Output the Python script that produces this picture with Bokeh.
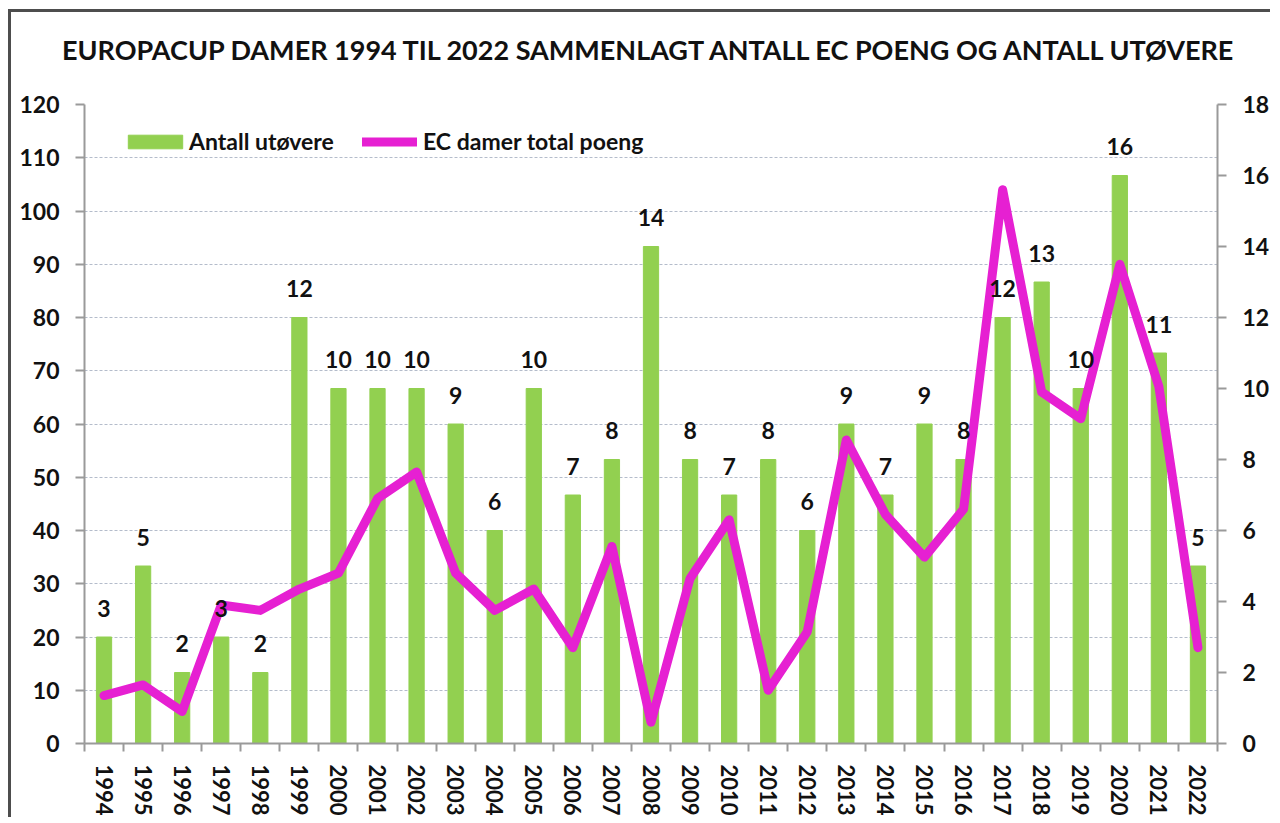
from bokeh.plotting import figure
from bokeh.models import Range1d, LinearAxis, FixedTicker, Legend, LegendItem, ColumnDataSource, Title
from bokeh.core.properties import value
from bokeh.embed import file_html
from bokeh.resources import INLINE

years = [1994, 1995, 1996, 1997, 1998, 1999, 2000, 2001, 2002, 2003, 2004, 2005, 2006, 2007,
         2008, 2009, 2010, 2011, 2012, 2013, 2014, 2015, 2016, 2017, 2018, 2019, 2020, 2021, 2022]
utovere = [3, 5, 2, 3, 2, 12, 10, 10, 10, 9, 6, 10, 7, 8, 14, 8, 7, 8, 6, 9, 7, 9, 8, 12, 13, 10, 16, 11, 5]
poeng = [9, 11, 6, 26, 25, 29, 32, 46, 51, 32, 25, 29, 18, 37, 4, 31, 42, 10, 21, 57, 43, 35, 44, 104, 66, 61, 90, 67, 18]
left_ticks = [0, 10, 20, 30, 40, 50, 60, 70, 80, 90, 100, 110, 120]
right_ticks = [0, 2, 4, 6, 8, 10, 12, 14, 16, 18]
title_text = "EUROPACUP DAMER 1994 TIL 2022 SAMMENLAGT ANTALL EC POENG OG ANTALL UTØVERE"

FONT = "Lato"
GREEN = "#92D050"
MAGENTA = "#E620D2"
AXIS = "#9a9a9a"
TXT = "#111111"

src = ColumnDataSource(dict(year=years, n=utovere, pts=poeng, lab=[str(v) for v in utovere]))

p = figure(width=1262, height=808, title=None,
           x_range=Range1d(years[0] - 0.5, years[-1] + 0.5),
           y_range=Range1d(left_ticks[0], left_ticks[-1]),
           output_backend="svg", toolbar_location=None,
           min_border_left=73, min_border_right=56, min_border_top=92, min_border_bottom=77)
p.extra_y_ranges = {"right": Range1d(right_ticks[0], right_ticks[-1])}
p.outline_line_color = None
p.styles = {"margin-left": "8px", "margin-top": "9px",
            "border-top": "3px solid #4d4d4d", "border-left": "3px solid #4d4d4d"}

# spacer panel between frame and title, then the title itself
p.add_layout(Title(text=" ", text_font_size="2px", standoff=30), "above")
p.add_layout(Title(text=title_text, align="center", offset=-13, standoff=10,
                   text_font=FONT, text_font_style="bold", text_font_size="27px",
                   text_color=TXT), "above")

# x axis (labels at category centres, ticks at category boundaries)
xa = p.xaxis[0]
xa.ticker = FixedTicker(ticks=years, minor_ticks=[y - 0.5 for y in years] + [years[-1] + 0.5])
xa.major_label_overrides = {y: str(y) for y in years}
xa.major_label_orientation = "vertical"
xa.major_tick_out = 0
xa.major_tick_in = 0
xa.minor_tick_out = 8
xa.minor_tick_in = 0
xa.minor_tick_line_color = AXIS
xa.minor_tick_line_width = 2
xa.axis_line_color = AXIS
xa.axis_line_width = 2
xa.major_label_standoff = 13
xa.major_label_text_font = FONT
xa.major_label_text_font_style = "bold"
xa.major_label_text_font_size = "22px"
xa.major_label_text_color = TXT

ya = p.yaxis[0]
ya.ticker = FixedTicker(ticks=left_ticks)
ra = LinearAxis(y_range_name="right", ticker=FixedTicker(ticks=right_ticks))
p.add_layout(ra, "right")

for ax in [ya, ra]:
    ax.major_tick_out = 9
    ax.major_tick_in = 0
    ax.minor_tick_line_color = None
    ax.major_tick_line_color = AXIS
    ax.major_tick_line_width = 2
    ax.axis_line_color = AXIS
    ax.axis_line_width = 2
    ax.major_label_standoff = 16
    ax.major_label_text_font = FONT
    ax.major_label_text_font_style = "bold"
    ax.major_label_text_font_size = "23px"
    ax.major_label_text_color = TXT

p.xgrid.visible = False
p.ygrid.grid_line_color = "#b4bccb"
p.ygrid.grid_line_dash = "3 2"
p.ygrid.grid_line_width = 1

bars = p.vbar(x="year", top="n", width=0.39, source=src, y_range_name="right",
              fill_color=GREEN, line_color=GREEN)
line = p.line(x="year", y="pts", source=src, line_color=MAGENTA, line_width=9,
              line_join="round", line_cap="round")
p.text(x="year", y="n", text="lab", source=src, y_range_name="right",
       text_font=value(FONT), text_font_style="bold", text_font_size="23px",
       text_align="center", text_baseline="alphabetic", y_offset=-29, text_color=TXT)

leg1 = Legend(items=[LegendItem(label=value("Antall utøvere"), renderers=[bars])],
              location=(37, 588), orientation="horizontal", glyph_width=68, glyph_height=17,
              label_standoff=0, padding=0, margin=0, border_line_color=None,
              background_fill_alpha=0, label_text_font=FONT, label_text_font_style="bold",
              label_text_font_size="23px", label_text_color=TXT)
leg2 = Legend(items=[LegendItem(label=value("EC damer total poeng"), renderers=[line])],
              location=(278, 588), orientation="horizontal", glyph_width=55, glyph_height=17,
              label_standoff=6, padding=0, margin=0, border_line_color=None,
              background_fill_alpha=0, label_text_font=FONT, label_text_font_style="bold",
              label_text_font_size="23px", label_text_color=TXT)
p.add_layout(leg1)
p.add_layout(leg2)

open("out.html", "w").write(file_html(p, INLINE))
